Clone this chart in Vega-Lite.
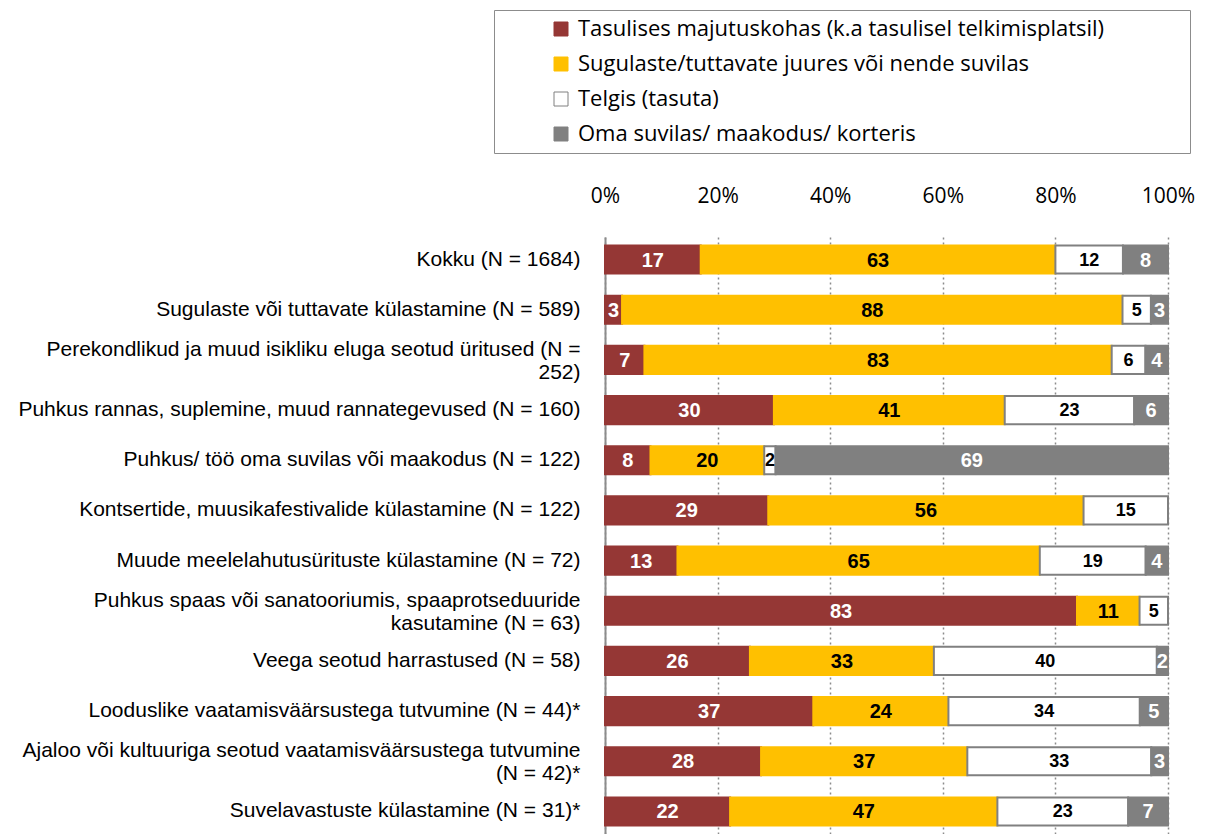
{
  "$schema": "https://vega.github.io/schema/vega-lite/v6.json",
  "autosize": "none",
  "padding": {"left": 605, "top": 237, "right": 39, "bottom": 0},
  "width": 563,
  "height": 597,
  "background": "white",
  "data": {
    "values": [
      {"q": "Kokku (N = 1684)", "cat": "Tasulises majutuskohas (k.a tasulisel telkimisplatsil)", "k": 1, "v": 17},
      {"q": "Kokku (N = 1684)", "cat": "Sugulaste/tuttavate juures või nende suvilas", "k": 2, "v": 63},
      {"q": "Kokku (N = 1684)", "cat": "Telgis (tasuta)", "k": 3, "v": 12},
      {"q": "Kokku (N = 1684)", "cat": "Oma suvilas/ maakodus/ korteris", "k": 4, "v": 8},
      {"q": "Sugulaste või tuttavate külastamine (N = 589)", "cat": "Tasulises majutuskohas (k.a tasulisel telkimisplatsil)", "k": 1, "v": 3},
      {"q": "Sugulaste või tuttavate külastamine (N = 589)", "cat": "Sugulaste/tuttavate juures või nende suvilas", "k": 2, "v": 88},
      {"q": "Sugulaste või tuttavate külastamine (N = 589)", "cat": "Telgis (tasuta)", "k": 3, "v": 5},
      {"q": "Sugulaste või tuttavate külastamine (N = 589)", "cat": "Oma suvilas/ maakodus/ korteris", "k": 4, "v": 3},
      {"q": "Perekondlikud ja muud isikliku eluga seotud üritused (N =\n252)", "cat": "Tasulises majutuskohas (k.a tasulisel telkimisplatsil)", "k": 1, "v": 7},
      {"q": "Perekondlikud ja muud isikliku eluga seotud üritused (N =\n252)", "cat": "Sugulaste/tuttavate juures või nende suvilas", "k": 2, "v": 83},
      {"q": "Perekondlikud ja muud isikliku eluga seotud üritused (N =\n252)", "cat": "Telgis (tasuta)", "k": 3, "v": 6},
      {"q": "Perekondlikud ja muud isikliku eluga seotud üritused (N =\n252)", "cat": "Oma suvilas/ maakodus/ korteris", "k": 4, "v": 4},
      {"q": "Puhkus rannas, suplemine, muud rannategevused (N = 160)", "cat": "Tasulises majutuskohas (k.a tasulisel telkimisplatsil)", "k": 1, "v": 30},
      {"q": "Puhkus rannas, suplemine, muud rannategevused (N = 160)", "cat": "Sugulaste/tuttavate juures või nende suvilas", "k": 2, "v": 41},
      {"q": "Puhkus rannas, suplemine, muud rannategevused (N = 160)", "cat": "Telgis (tasuta)", "k": 3, "v": 23},
      {"q": "Puhkus rannas, suplemine, muud rannategevused (N = 160)", "cat": "Oma suvilas/ maakodus/ korteris", "k": 4, "v": 6},
      {"q": "Puhkus/ töö oma suvilas või maakodus (N = 122)", "cat": "Tasulises majutuskohas (k.a tasulisel telkimisplatsil)", "k": 1, "v": 8},
      {"q": "Puhkus/ töö oma suvilas või maakodus (N = 122)", "cat": "Sugulaste/tuttavate juures või nende suvilas", "k": 2, "v": 20},
      {"q": "Puhkus/ töö oma suvilas või maakodus (N = 122)", "cat": "Telgis (tasuta)", "k": 3, "v": 2},
      {"q": "Puhkus/ töö oma suvilas või maakodus (N = 122)", "cat": "Oma suvilas/ maakodus/ korteris", "k": 4, "v": 69},
      {"q": "Kontsertide, muusikafestivalide külastamine (N = 122)", "cat": "Tasulises majutuskohas (k.a tasulisel telkimisplatsil)", "k": 1, "v": 29},
      {"q": "Kontsertide, muusikafestivalide külastamine (N = 122)", "cat": "Sugulaste/tuttavate juures või nende suvilas", "k": 2, "v": 56},
      {"q": "Kontsertide, muusikafestivalide külastamine (N = 122)", "cat": "Telgis (tasuta)", "k": 3, "v": 15},
      {"q": "Muude meelelahutusürituste külastamine (N = 72)", "cat": "Tasulises majutuskohas (k.a tasulisel telkimisplatsil)", "k": 1, "v": 13},
      {"q": "Muude meelelahutusürituste külastamine (N = 72)", "cat": "Sugulaste/tuttavate juures või nende suvilas", "k": 2, "v": 65},
      {"q": "Muude meelelahutusürituste külastamine (N = 72)", "cat": "Telgis (tasuta)", "k": 3, "v": 19},
      {"q": "Muude meelelahutusürituste külastamine (N = 72)", "cat": "Oma suvilas/ maakodus/ korteris", "k": 4, "v": 4},
      {"q": "Puhkus spaas või sanatooriumis, spaaprotseduuride\nkasutamine (N = 63)", "cat": "Tasulises majutuskohas (k.a tasulisel telkimisplatsil)", "k": 1, "v": 83},
      {"q": "Puhkus spaas või sanatooriumis, spaaprotseduuride\nkasutamine (N = 63)", "cat": "Sugulaste/tuttavate juures või nende suvilas", "k": 2, "v": 11},
      {"q": "Puhkus spaas või sanatooriumis, spaaprotseduuride\nkasutamine (N = 63)", "cat": "Telgis (tasuta)", "k": 3, "v": 5},
      {"q": "Veega seotud harrastused (N = 58)", "cat": "Tasulises majutuskohas (k.a tasulisel telkimisplatsil)", "k": 1, "v": 26},
      {"q": "Veega seotud harrastused (N = 58)", "cat": "Sugulaste/tuttavate juures või nende suvilas", "k": 2, "v": 33},
      {"q": "Veega seotud harrastused (N = 58)", "cat": "Telgis (tasuta)", "k": 3, "v": 40},
      {"q": "Veega seotud harrastused (N = 58)", "cat": "Oma suvilas/ maakodus/ korteris", "k": 4, "v": 2},
      {"q": "Looduslike vaatamisväärsustega tutvumine (N = 44)*", "cat": "Tasulises majutuskohas (k.a tasulisel telkimisplatsil)", "k": 1, "v": 37},
      {"q": "Looduslike vaatamisväärsustega tutvumine (N = 44)*", "cat": "Sugulaste/tuttavate juures või nende suvilas", "k": 2, "v": 24},
      {"q": "Looduslike vaatamisväärsustega tutvumine (N = 44)*", "cat": "Telgis (tasuta)", "k": 3, "v": 34},
      {"q": "Looduslike vaatamisväärsustega tutvumine (N = 44)*", "cat": "Oma suvilas/ maakodus/ korteris", "k": 4, "v": 5},
      {"q": "Ajaloo või kultuuriga seotud vaatamisväärsustega tutvumine\n(N = 42)*", "cat": "Tasulises majutuskohas (k.a tasulisel telkimisplatsil)", "k": 1, "v": 28},
      {"q": "Ajaloo või kultuuriga seotud vaatamisväärsustega tutvumine\n(N = 42)*", "cat": "Sugulaste/tuttavate juures või nende suvilas", "k": 2, "v": 37},
      {"q": "Ajaloo või kultuuriga seotud vaatamisväärsustega tutvumine\n(N = 42)*", "cat": "Telgis (tasuta)", "k": 3, "v": 33},
      {"q": "Ajaloo või kultuuriga seotud vaatamisväärsustega tutvumine\n(N = 42)*", "cat": "Oma suvilas/ maakodus/ korteris", "k": 4, "v": 3},
      {"q": "Suvelavastuste külastamine (N = 31)*", "cat": "Tasulises majutuskohas (k.a tasulisel telkimisplatsil)", "k": 1, "v": 22},
      {"q": "Suvelavastuste külastamine (N = 31)*", "cat": "Sugulaste/tuttavate juures või nende suvilas", "k": 2, "v": 47},
      {"q": "Suvelavastuste külastamine (N = 31)*", "cat": "Telgis (tasuta)", "k": 3, "v": 23},
      {"q": "Suvelavastuste külastamine (N = 31)*", "cat": "Oma suvilas/ maakodus/ korteris", "k": 4, "v": 7}
    ]
  },
  "encoding": {
    "y": {
      "field": "q",
      "type": "nominal",
      "sort": null,
      "scale": {"paddingInner": 0.44, "paddingOuter": 0.17},
      "axis": {
        "title": null,
        "ticks": false,
        "domain": true,
        "domainColor": "#8c8c8c",
        "domainWidth": 2,
        "labelFont": "Liberation Sans",
        "labelFontSize": 21,
        "labelColor": "#000000",
        "labelPadding": 25,
        "labelLimit": 0,
        "labelLineHeight": 23,
        "labelOffset": {"condition": {"test": "indexof(datum.label, '\\n') >= 0", "value": -10}, "value": 0},
        "labelExpr": "split(datum.label, '\\n')"
      }
    },
    "x": {
      "field": "v",
      "type": "quantitative",
      "stack": "normalize",
      "scale": {"domain": [0, 1]},
      "axis": {
        "orient": "top",
        "title": null,
        "values": [0, 0.2, 0.4, 0.6, 0.8, 1],
        "format": ".0%",
        "grid": true,
        "gridDash": [2, 3],
        "gridColor": "#8c8c8c",
        "gridWidth": 1.5,
        "domain": false,
        "ticks": false,
        "tickSize": 0,
        "labelFlush": false,
        "labelPadding": 31,
        "labelFont": "Open Sans",
        "labelFontSize": 21,
        "labelColor": "#000000"
      }
    },
    "order": {"field": "k", "type": "quantitative"}
  },
  "layer": [
    {
      "mark": {"type": "bar", "strokeWidth": 2},
      "encoding": {
        "fill": {
          "field": "cat",
          "type": "nominal",
          "scale": {
            "domain": ["Tasulises majutuskohas (k.a tasulisel telkimisplatsil)", "Sugulaste/tuttavate juures või nende suvilas", "Telgis (tasuta)", "Oma suvilas/ maakodus/ korteris"],
            "range": ["#953735", "#FFC000", "#FFFFFF", "#808080"]
          },
          "legend": {"title": "\u00a0", "titleOrient": "right", "titlePadding": 78}
        },
        "stroke": {
          "field": "cat",
          "type": "nominal",
          "scale": {
            "domain": ["Tasulises majutuskohas (k.a tasulisel telkimisplatsil)", "Sugulaste/tuttavate juures või nende suvilas", "Telgis (tasuta)", "Oma suvilas/ maakodus/ korteris"],
            "range": ["#953735", "#FFC000", "#808080", "#808080"]
          },
          "legend": {"title": "\u00a0", "titleOrient": "right", "titlePadding": 78}
        }
      }
    },
    {
      "mark": {"type": "text", "font": "Liberation Sans", "fontWeight": "bold", "align": "center", "baseline": "middle", "dy": 1},
      "encoding": {
        "x": {"field": "v", "type": "quantitative", "stack": "normalize", "bandPosition": 0.5},
        "detail": {"field": "cat", "type": "nominal"},
        "text": {"field": "v", "type": "quantitative"},
        "color": {"condition": {"test": "datum.k == 2 || datum.k == 3", "value": "#000000"}, "value": "#FFFFFF"},
        "size": {"condition": {"test": "datum.k == 3", "value": 18}, "value": 20}
      }
    }
  ],
  "config": {
    "view": {"stroke": null},
    "legend": {
      "orient": "none",
      "legendX": -111,
      "legendY": -227,
      "symbolType": "square",
      "symbolSize": 196,
      "symbolStrokeWidth": 1,
      "labelFont": "Open Sans",
      "labelFontSize": 22,
      "labelColor": "#000000",
      "labelLimit": 0,
      "rowPadding": 13,
      "padding": 8,
      "strokeColor": "#8c8c8c",
      "fillColor": "#FFFFFF",
      "symbolOffset": 48,
      "labelOffset": 6
    }
  }
}
